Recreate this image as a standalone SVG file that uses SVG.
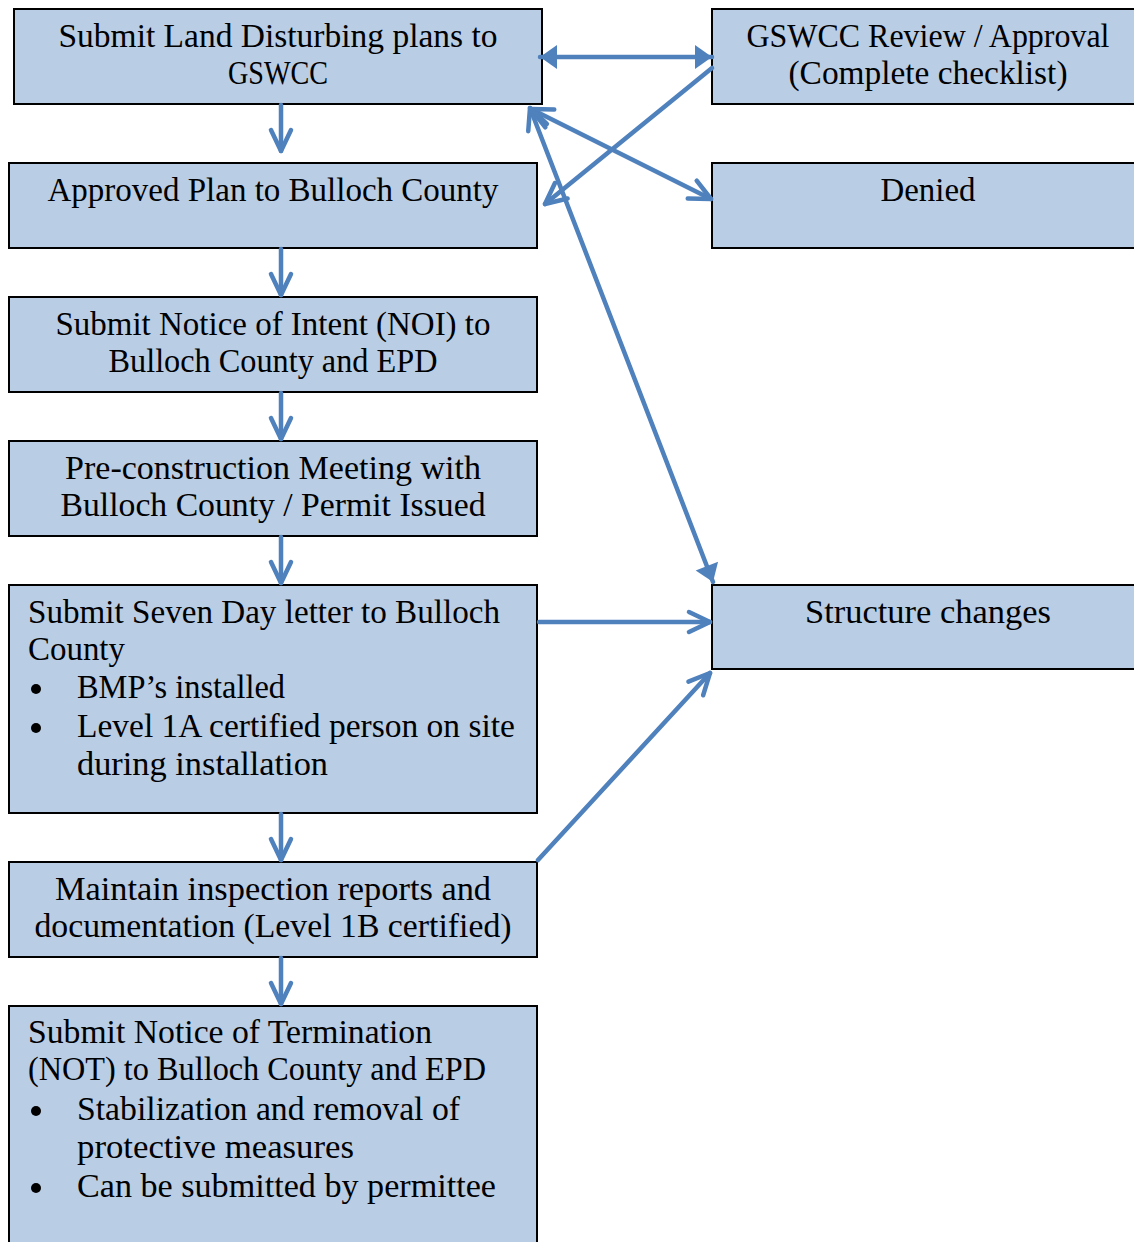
<svg xmlns="http://www.w3.org/2000/svg" width="1134" height="1242" viewBox="0 0 1134 1242">
<style>
.box{fill:#B9CDE5;stroke:#000;stroke-width:2}
.t{font-family:"Liberation Serif","Times New Roman",serif;font-size:33px;fill:#000}
.c{text-anchor:middle}
.cn{fill:none;stroke:#4F81BD;stroke-width:4.5;stroke-linecap:round}
</style>
<defs>
<marker id="v" viewBox="-26 -14 30 28" refX="0" refY="0" markerWidth="30" markerHeight="28" markerUnits="userSpaceOnUse" orient="auto-start-reverse">
<path d="M-21,-10 L0,0 L-21,10" fill="none" stroke="#4F81BD" stroke-width="4.5" stroke-linecap="round" stroke-linejoin="round"/>
</marker>
<marker id="f" viewBox="-22 -14 24 28" refX="0" refY="0" markerWidth="24" markerHeight="28" markerUnits="userSpaceOnUse" orient="auto-start-reverse">
<path d="M-17,-12 L0,0 L-17,12 Z" fill="#4F81BD"/>
</marker>
</defs>
<g id="n1"><rect class="box" x="14" y="9" width="528" height="95"/>
<text class="t c" x="278" y="47" textLength="439" lengthAdjust="spacingAndGlyphs">Submit Land Disturbing plans to</text>
<text class="t c" x="278" y="84" textLength="100" lengthAdjust="spacingAndGlyphs">GSWCC</text></g>
<g id="n2"><rect class="box" x="9" y="163" width="528" height="85"/>
<text class="t c" x="273" y="201" textLength="451" lengthAdjust="spacingAndGlyphs">Approved Plan to Bulloch County</text></g>
<g id="n3"><rect class="box" x="9" y="297" width="528" height="95"/>
<text class="t c" x="273" y="335" textLength="435" lengthAdjust="spacingAndGlyphs">Submit Notice of Intent (NOI) to</text>
<text class="t c" x="273" y="372" textLength="329" lengthAdjust="spacingAndGlyphs">Bulloch County and EPD</text></g>
<g id="n4"><rect class="box" x="9" y="441" width="528" height="95"/>
<text class="t c" x="273" y="479" textLength="416" lengthAdjust="spacingAndGlyphs">Pre-construction Meeting with</text>
<text class="t c" x="273" y="516" textLength="425" lengthAdjust="spacingAndGlyphs">Bulloch County / Permit Issued</text></g>
<g id="n5"><rect class="box" x="9" y="585" width="528" height="228"/>
<text class="t" x="28" y="623" textLength="472" lengthAdjust="spacingAndGlyphs">Submit Seven Day letter to Bulloch</text>
<text class="t" x="28" y="660" textLength="97" lengthAdjust="spacingAndGlyphs">County</text>
<circle cx="36" cy="689" r="5"/>
<text class="t" x="77" y="698" textLength="208" lengthAdjust="spacingAndGlyphs">BMP’s installed</text>
<circle cx="36" cy="728" r="5"/>
<text class="t" x="77" y="737" textLength="438" lengthAdjust="spacingAndGlyphs">Level 1A certified person on site</text>
<text class="t" x="77" y="775" textLength="251" lengthAdjust="spacingAndGlyphs">during installation</text></g>
<g id="n6"><rect class="box" x="9" y="862" width="528" height="95"/>
<text class="t c" x="273" y="900" textLength="436" lengthAdjust="spacingAndGlyphs">Maintain inspection reports and</text>
<text class="t c" x="273" y="937" textLength="477" lengthAdjust="spacingAndGlyphs">documentation (Level 1B certified)</text></g>
<g id="n7"><rect class="box" x="9" y="1006" width="528" height="250"/>
<text class="t" x="28" y="1043" textLength="404" lengthAdjust="spacingAndGlyphs">Submit Notice of Termination</text>
<text class="t" x="28" y="1080" textLength="458" lengthAdjust="spacingAndGlyphs">(NOT) to Bulloch County and EPD</text>
<circle cx="36" cy="1111" r="5"/>
<text class="t" x="77" y="1120" textLength="383" lengthAdjust="spacingAndGlyphs">Stabilization and removal of</text>
<text class="t" x="77" y="1158" textLength="277" lengthAdjust="spacingAndGlyphs">protective measures</text>
<circle cx="36" cy="1188" r="5"/>
<text class="t" x="77" y="1197" textLength="419" lengthAdjust="spacingAndGlyphs">Can be submitted by permittee</text></g>
<g id="nA"><rect class="box" x="712" y="9" width="432" height="95"/>
<text class="t c" x="928" y="47" textLength="363" lengthAdjust="spacingAndGlyphs">GSWCC Review / Approval</text>
<text class="t c" x="928" y="84" textLength="279" lengthAdjust="spacingAndGlyphs">(Complete checklist)</text></g>
<g id="nB"><rect class="box" x="712" y="163" width="432" height="85"/>
<text class="t c" x="928" y="201" textLength="95" lengthAdjust="spacingAndGlyphs">Denied</text></g>
<g id="nC"><rect class="box" x="712" y="585" width="432" height="84"/>
<text class="t c" x="928" y="623" textLength="246" lengthAdjust="spacingAndGlyphs">Structure changes</text></g>
<g id="connectors">
<line class="cn" x1="281" y1="105" x2="281" y2="151" marker-end="url(#v)"/>
<line class="cn" x1="281" y1="249" x2="281" y2="295" marker-end="url(#v)"/>
<line class="cn" x1="281" y1="393" x2="281" y2="439" marker-end="url(#v)"/>
<line class="cn" x1="281" y1="537" x2="281" y2="583" marker-end="url(#v)"/>
<line class="cn" x1="281" y1="814" x2="281" y2="860" marker-end="url(#v)"/>
<line class="cn" x1="281" y1="958" x2="281" y2="1004" marker-end="url(#v)"/>
<line class="cn" x1="540" y1="57" x2="712" y2="57" marker-start="url(#f)" marker-end="url(#f)"/>
<line class="cn" x1="712" y1="68" x2="545" y2="204" marker-end="url(#v)"/>
<line class="cn" x1="531" y1="109" x2="711" y2="199" marker-start="url(#v)" marker-end="url(#v)"/>
<line class="cn" x1="530" y1="108" x2="713" y2="582" marker-start="url(#v)" marker-end="url(#f)"/>
<line class="cn" x1="539" y1="622" x2="710" y2="622" marker-end="url(#v)"/>
<line class="cn" x1="538" y1="860" x2="710" y2="673" marker-end="url(#v)"/>
</g>
</svg>
